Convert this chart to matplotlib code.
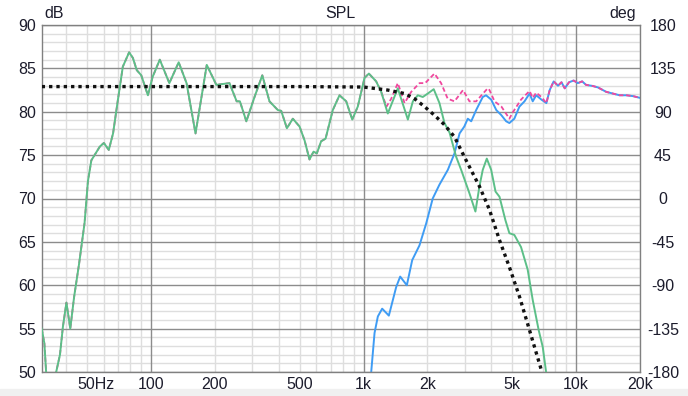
import numpy as np
import matplotlib
matplotlib.use('Agg')
import matplotlib.pyplot as plt
from matplotlib.ticker import FixedLocator, FuncFormatter, NullFormatter
from matplotlib.patches import Rectangle

plt.rcParams['font.family'] = ['Liberation Sans', 'DejaVu Sans']

# woofer response (green)
woofer_f = [30.6, 31.5, 32.1, 33.5, 35.8, 37.3, 38.5, 40.0, 41.7, 43.5, 45.9, 48.7, 50.5, 52.4,
            57.5, 60.0, 63.3, 66.3, 69.9, 73.7, 78.9, 82.2, 85.7, 90, 96.7, 101.7, 110, 122,
            135, 147, 162, 183, 203, 234, 253, 262, 281, 307, 334, 361, 395, 410, 436, 465,
            500, 528, 557, 582, 603, 632, 663, 717, 771, 829, 885, 940, 1011, 1060, 1147,
            1211, 1301, 1450, 1617, 1707, 1801, 1901, 2007, 2140, 2277, 2404, 2540, 2729,
            2881, 3151, 3362, 3512, 3640, 3803, 3988, 4180, 4364, 4653, 4857, 5125, 5511,
            5923, 6255, 6676, 6970, 7230, 7500]
woofer_db = [55.0, 53.3, 50.0, 46.5, 50.0, 52.0, 55.2, 58.0, 55.0, 58.7, 62.5, 67.2, 72.0, 74.4,
             76.0, 76.4, 75.6, 77.5, 81.4, 85.2, 86.85, 86.2, 84.8, 84.2, 81.9, 84.0, 86.0, 83.3,
             85.7, 83.3, 77.5, 85.4, 83.1, 83.3, 81.2, 81.2, 78.9, 81.7, 84.2, 81.2, 80.2, 80.1,
             78.1, 79.2, 78.3, 76.7, 74.5, 75.4, 75.2, 76.6, 76.9, 80.2, 81.9, 81.2, 79.1, 80.6,
             83.9, 84.4, 83.5, 82.3, 79.8, 82.7, 79.1, 81.2, 81.9, 81.7, 82.1, 82.6, 81.0, 78.7,
             77.6, 74.8, 73.3, 70.6, 68.5, 71.4, 73.3, 74.6, 73.3, 70.8, 70.2, 67.5, 66.0, 65.8,
             64.4, 61.8, 58.3, 54.8, 52.9, 50.0, 47.0]

# tweeter response (blue)
tweeter_f = [1060, 1087, 1127, 1168, 1224, 1316, 1425, 1488, 1599, 1695, 1834, 1971, 2117, 2277,
             2493, 2680, 2831, 2981, 3095, 3212, 3390, 3640, 3772, 3988, 4214, 4454, 4691, 4857,
             5125, 5417, 5722, 6045, 6255, 6496, 6873, 7253, 7519, 7850, 8228, 8542, 8848, 9270,
             9744, 10200, 10683, 11150, 11990, 12690, 13850, 14890, 16030, 17260, 18560, 20000]
tweeter_db = [47.0, 50.0, 54.5, 56.4, 57.3, 56.5, 59.8, 61.0, 60.0, 62.9, 64.6, 67.1, 70.0, 71.6,
              73.3, 75.2, 77.5, 78.3, 79.2, 78.9, 80.2, 81.7, 81.9, 81.4, 80.2, 79.6, 78.9, 78.7,
              79.2, 80.6, 81.2, 82.1, 81.2, 81.9, 81.4, 81.0, 82.5, 83.5, 83.0, 83.4, 82.7, 83.4,
              83.6, 83.3, 83.5, 83.1, 82.97, 82.8, 82.3, 82.1, 81.9, 81.9, 81.8, 81.6]

# summed response in the crossover region (pink)
sum_mid_f = [1283, 1350, 1450, 1560, 1677, 1834, 1950, 2157, 2318, 2490, 2680, 2940, 3151, 3390,
             3620, 3840, 3915, 4135, 4454, 4857, 5030, 5511, 6045, 6255, 6496, 6873]
sum_mid_db = [80.6, 81.5, 83.3, 81.0, 82.3, 83.3, 83.3, 84.4, 83.3, 81.5, 81.2, 82.5, 81.2, 81.2,
              82.0, 82.7, 82.5, 81.2, 80.6, 79.2, 79.9, 81.4, 82.4, 81.6, 82.2, 81.7]

# target curve (black dotted)
target_f = [30.6, 500, 1000, 1300, 1560, 1740, 1935, 2157, 2404, 2680, 3040, 3512, 3915, 4364,
            4857, 5417, 6045, 6873, 7100]
target_db = [82.9, 82.9, 82.85, 82.5, 82.1, 81.5, 80.6, 79.6, 78.5, 77.1, 74.4, 71.4, 68.7, 65.2,
             62.1, 58.7, 54.8, 50.2, 49.0]

x_major = [100, 1000, 10000]
x_major_labels = {100: '100', 1000: '1k', 10000: '10k'}
x_minor = [40, 50, 60, 70, 80, 90, 200, 300, 400, 500, 600, 700, 800, 900,
           2000, 3000, 4000, 5000, 6000, 7000, 8000, 9000, 20000]
x_minor_labels = {200: '200', 500: '500', 2000: '2k', 5000: '5k', 20000: '20k'}
y_major = [50, 55, 60, 65, 70, 75, 80, 85, 90]
deg_ticks = [180, 135, 90, 45, 0, -45, -90, -135, -180]

wf = np.array(woofer_f)
wd = np.array(woofer_db)
tf = np.array(tweeter_f)
td = np.array(tweeter_db)
sum_f = np.concatenate([wf[wf < 1283], sum_mid_f, tf[tf > 7000]])
sum_db = np.concatenate([wd[wf < 1283], sum_mid_db, td[tf > 7000]])

txt = '#1c1c2c'
fig = plt.figure(figsize=(6.88, 3.96), dpi=100)
fig.patches.append(Rectangle((0, 0), 1, 7 / 396, transform=fig.transFigure,
                             color='#f0f0f0', zorder=-5))
ax = fig.add_axes([41.7 / 688, 24 / 396, 598.3 / 688, 347 / 396])
ax.set_xscale('log')
ax.set_xlim(30.6, 20000)
ax.set_ylim(50, 90)

ax.xaxis.set_major_locator(FixedLocator(x_major))
ax.xaxis.set_minor_locator(FixedLocator(x_minor))
ax.xaxis.set_major_formatter(FuncFormatter(lambda v, p: x_major_labels.get(int(round(v)), '')))
ax.xaxis.set_minor_formatter(FuncFormatter(lambda v, p: x_minor_labels.get(int(round(v)), '')))
ax.yaxis.set_major_locator(FixedLocator(y_major))
ax.yaxis.set_minor_locator(FixedLocator(np.arange(50, 91, 1)))
ax.yaxis.set_minor_formatter(NullFormatter())
ax.yaxis.set_major_formatter(FuncFormatter(lambda v, p: '%d' % v))

# light grid from the minor ticks, dark grid lines drawn on top of it
ax.grid(which='minor', color='#dedede', lw=1.0)
ax.set_axisbelow(True)
for v in x_major:
    ax.axvline(v, color='#8c8c8c', lw=1.0, zorder=1)
for v in y_major:
    ax.axhline(v, color='#8c8c8c', lw=1.0, zorder=1)

ax.tick_params(which='both', length=0, labelsize=11.5, colors=txt)
ax.tick_params(axis='x', which='both', pad=3.5)
ax.tick_params(axis='y', which='both', pad=4)
for s in ax.spines.values():
    s.set_color('#808080')
    s.set_linewidth(1.0)

ax.annotate('50Hz', xy=(50, 0), xycoords=('data', 'axes fraction'), xytext=(-6.7, -3.5),
            textcoords='offset points', ha='left', va='top', fontsize=11.5, color=txt)

ax.plot(tf, td, color='#3f9cf4', lw=1.4, zorder=2)
ax.plot(sum_f, sum_db, color='#f0489e', lw=1.3, dashes=(2.5, 1.5), zorder=3)
ax.plot(wf, wd, color='#5cbf88', lw=1.4, zorder=4)
ax.plot(target_f, target_db, color='#111111', lw=2.4, dashes=(1, 1.2), zorder=5)

ax2 = ax.twinx()
ax2.set_ylim(-180, 180)
ax2.set_yticks(deg_ticks)
ax2.set_yticklabels([str(d) for d in deg_ticks])
ax2.tick_params(length=0, labelsize=11.5, colors=txt, pad=16.5)
for lbl in ax2.get_yticklabels():
    lbl.set_horizontalalignment('center')
for s in ax2.spines.values():
    s.set_visible(False)

ax.text(0.004, 1.012, 'dB', transform=ax.transAxes, ha='left', va='bottom',
        fontsize=11.5, color=txt)
ax.text(0.5, 1.012, 'SPL', transform=ax.transAxes, ha='center', va='bottom',
        fontsize=11.5, color=txt)
ax.text(0.993, 1.012, 'deg', transform=ax.transAxes, ha='right', va='bottom',
        fontsize=11.5, color=txt)

fig.savefig('out.png', dpi=100)
